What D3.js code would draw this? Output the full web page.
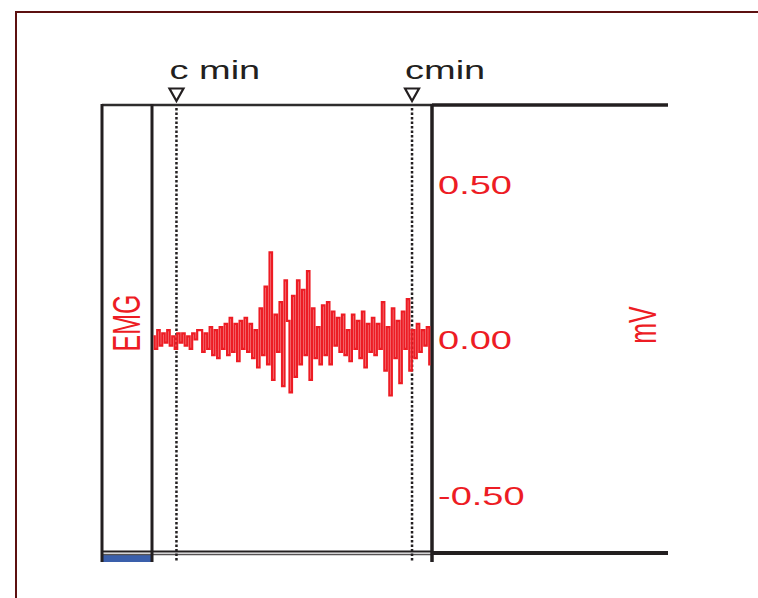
<!DOCTYPE html>
<html>
<head>
<meta charset="utf-8">
<script src="https://d3js.org/d3.v7.min.js"></script>
<style>
  body { margin: 0; background: #fff; }
  text { font-family: "Liberation Sans", Arial, sans-serif; }
</style>
</head>
<body>
<div id="chart"></div>
<script>
// emg samples in mV
emg = [0.01,-0.03,0.03,-0.02,0.02,-0.01,0.03,-0.02,0.01,-0.03,
       0.02,-0.01,0.02,-0.02,0.01,-0.03,0.02,0.00,0.03,0.03,
      -0.04,0.02,-0.03,0.04,-0.05,0.03,-0.06,0.04,-0.03,0.05,
      -0.05,0.07,-0.04,0.05,-0.07,0.06,-0.03,0.07,-0.04,0.05,
      -0.06,0.03,-0.09,0.10,-0.05,0.17,-0.08,0.28,-0.13,0.08,
      -0.04,0.12,-0.15,0.19,0.06,-0.17,0.14,-0.12,0.19,-0.08,
       0.16,-0.05,0.22,-0.13,0.10,-0.06,0.04,-0.08,0.11,-0.05,
       0.12,-0.08,0.09,-0.02,0.07,-0.04,0.08,-0.05,0.03,-0.07,
       0.08,-0.03,0.06,-0.06,0.09,-0.09,0.05,-0.04,0.07,-0.05,
       0.05,-0.03,0.12,-0.10,0.04,-0.18,0.10,-0.06,0.06,-0.14,
       0.09,-0.03,0.13,-0.10,0.03,-0.06,0.05,-0.04,0.03,-0.02,
       0.04,-0.08]
markerIdx = [9.2, 103.6]
markerLabels = ["c min", "cmin"]
yTicks = [0.5, 0, -0.5]

width = 758
height = 598
red = "#ed1c24"
ink = "#231f20"
sx = 1.52   // the source image is stretched sideways

svg = d3.select('#chart')
  .append('svg')
  .attr('width', width)
  .attr('height', height)

xScale = d3.scaleLinear()
  .domain([0, emg.length - 1])
  .range([153.5, 430.5])

yScale = d3.scaleLinear()
  .domain([-0.5, 0.5])
  .range([495, 184])

/// outer frame
svg.append('path')
  .attr('d', 'M16,598 V12 H758')
  .attr('fill', 'none')
  .attr('stroke', '#5c1010')
  .attr('stroke-width', 2)

/// blue strip under the label column
svg.append('rect')
  .attr('x', 102).attr('y', 555)
  .attr('width', 50).attr('height', 7)
  .attr('fill', '#3a5fab')

/// panel box
svg.append('line').attr('x1', 102).attr('x2', 432).attr('y1', 105).attr('y2', 105)
  .attr('stroke', '#2e2c2d').attr('stroke-width', 2.5)
svg.append('line').attr('x1', 432).attr('x2', 668).attr('y1', 105).attr('y2', 105)
  .attr('stroke', ink).attr('stroke-width', 3.5)
svg.append('line').attr('x1', 102).attr('x2', 432).attr('y1', 551.5).attr('y2', 551.5)
  .attr('stroke', ink).attr('stroke-width', 2)
svg.append('line').attr('x1', 102).attr('x2', 432).attr('y1', 554.5).attr('y2', 554.5)
  .attr('stroke', '#555253').attr('stroke-width', 1.5)
svg.append('line').attr('x1', 432).attr('x2', 668).attr('y1', 553).attr('y2', 553)
  .attr('stroke', ink).attr('stroke-width', 4)

;[102, 152].forEach(function(x){
  svg.append('line').attr('x1', x).attr('x2', x).attr('y1', 104).attr('y2', 562)
    .attr('stroke', ink).attr('stroke-width', 3)
})
svg.append('line').attr('x1', 432).attr('x2', 432).attr('y1', 104).attr('y2', 562)
  .attr('stroke', ink).attr('stroke-width', 3.5)

/// markers
markers = svg.selectAll('.marker')
  .data(markerIdx)
  .enter().append('g')
  .attr('class', 'marker')
  .attr('transform', d => 'translate(' + xScale(d) + ',0)')

markers.append('line')
  .attr('y1', 108).attr('y2', 561)
  .attr('stroke', ink)
  .attr('stroke-width', 2.5)
  .attr('stroke-dasharray', '2.5,2')

markers.append('path')
  .attr('d', 'M-7,88.5 H7 L0,101 Z')
  .attr('fill', 'none')
  .attr('stroke', ink)
  .attr('stroke-width', 2.2)
  .attr('stroke-linejoin', 'miter')

markers.append('text')
  .attr('transform', 'translate(-7,79) scale(' + sx + ',1)')
  .attr('font-size', 25)
  .attr('fill', ink)
  .text((d, i) => markerLabels[i])

/// emg trace
line = d3.line()
  .x((d, i) => xScale(i))
  .y(d => yScale(d))
  .curve(d3.curveStep)

svg.append('path')
  .datum(emg)
  .attr('d', line)
  .attr('fill', 'none')
  .attr('stroke', red)
  .attr('stroke-width', 2.2)
  .attr('stroke-linejoin', 'miter')

/// y axis on the right of the panel
axis = svg.append('g')
  .attr('transform', 'translate(432,0)')
  .call(d3.axisRight(yScale).tickValues(yTicks).tickSize(0)
    .tickFormat(d => d3.format('.2f')(d).replace('\u2212', '-')))

axis.select('.domain').remove()
axis.selectAll('text')
  .attr('x', 0)
  .attr('dy', '0.36em')
  .attr('transform', 'translate(6,0) scale(' + sx + ',1)')
  .attr('font-size', 25)
  .attr('font-family', '"Liberation Sans", Arial, sans-serif')
  .attr('fill', red)

/// channel name and unit
svg.append('text')
  .attr('transform', 'translate(140,323) scale(' + sx + ',1) rotate(-90)')
  .attr('text-anchor', 'middle')
  .attr('font-size', 25)
  .attr('fill', red)
  .text('EMG')

svg.append('text')
  .attr('transform', 'translate(656,325) scale(' + sx + ',1) rotate(-90)')
  .attr('text-anchor', 'middle')
  .attr('font-size', 25)
  .attr('fill', red)
  .text('mV')
</script>
</body>
</html>
